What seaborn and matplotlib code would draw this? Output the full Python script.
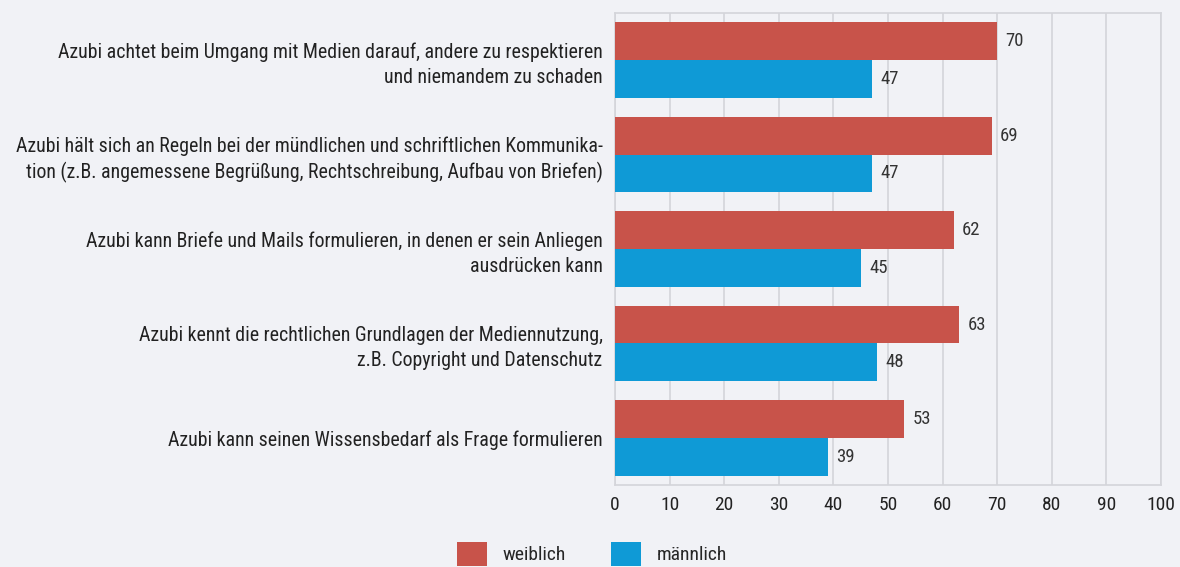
import matplotlib
matplotlib.use("Agg")
import matplotlib.pyplot as plt
import seaborn as sns
import pandas as pd
from matplotlib import font_manager
from matplotlib.patches import Patch

categories = [
    "Azubi achtet beim Umgang mit Medien darauf, andere zu respektieren\nund niemandem zu schaden",
    "Azubi hält sich an Regeln bei der mündlichen und schriftlichen Kommunika-\ntion (z.B. angemessene Begrüßung, Rechtschreibung, Aufbau von Briefen)",
    "Azubi kann Briefe und Mails formulieren, in denen er sein Anliegen\nausdrücken kann",
    "Azubi kennt die rechtlichen Grundlagen der Mediennutzung,\nz.B. Copyright und Datenschutz",
    "Azubi kann seinen Wissensbedarf als Frage formulieren",
]
series_names = ["weiblich", "männlich"]
weiblich = [70, 69, 62, 63, 53]
maennlich = [47, 47, 45, 48, 39]
x_ticks = [0, 10, 20, 30, 40, 50, 60, 70, 80, 90, 100]

colors = {"weiblich": "#c8534a", "männlich": "#0f9ad6"}
bg = "#f1f2f6"

sns.set_theme(style="white")
names = {f.name for f in font_manager.fontManager.ttflist}
fam = "Roboto Condensed" if "Roboto Condensed" in names else "Liberation Sans Narrow" if "Liberation Sans Narrow" in names else "DejaVu Sans"
plt.rcParams["font.family"] = [fam, "DejaVu Sans"]

df = pd.DataFrame({
    "cat": categories * 2,
    "sex": ["weiblich"] * 5 + ["männlich"] * 5,
    "val": weiblich + maennlich,
})

fig = plt.figure(figsize=(11.8, 5.67), dpi=100, facecolor=bg)
ax = fig.add_axes([615 / 1180, 1 - 485 / 567, (1161 - 615) / 1180, (485 - 13) / 567])
ax.set_facecolor(bg)

sns.barplot(data=df, y="cat", x="val", hue="sex", hue_order=series_names,
            palette=colors, orient="h", width=0.8, saturation=1, ax=ax,
            legend=False, errorbar=None, linewidth=0, edgecolor="none", zorder=3)

for cont in ax.containers:
    ax.bar_label(cont, fmt="%d", padding=6, fontsize=13.5, color="#333333")

ax.set_xlim(0, 100)
ax.set_xticks(x_ticks)
ax.set_xticklabels([str(t) for t in x_ticks], fontsize=14, color="#222222")
ax.set_ylim(4.5, -0.5)
ax.tick_params(axis="y", labelsize=14.3, labelcolor="#222222", length=0, pad=9)
ax.tick_params(axis="x", length=0, pad=8)
for lbl in ax.get_yticklabels():
    lbl.set_multialignment("right")
    lbl.set_linespacing(1.35)
ax.set_xlabel("")
ax.set_ylabel("")
ax.grid(axis="x", color="#d4d5da", linewidth=1.2, zorder=0)
ax.set_axisbelow(True)
for s in ax.spines.values():
    s.set_color("#d4d5da")
    s.set_linewidth(1.2)

handles = [Patch(facecolor=colors[n], edgecolor="none", label=n) for n in series_names]
fig.legend(handles=handles, loc="center", bbox_to_anchor=(592 / 1180, 1 - 554 / 567),
           ncol=2, frameon=False, fontsize=14, handlelength=1.55, handleheight=1.45,
           columnspacing=2.3, handletextpad=0.8)

fig.savefig("out.png", dpi=100, facecolor=bg)
